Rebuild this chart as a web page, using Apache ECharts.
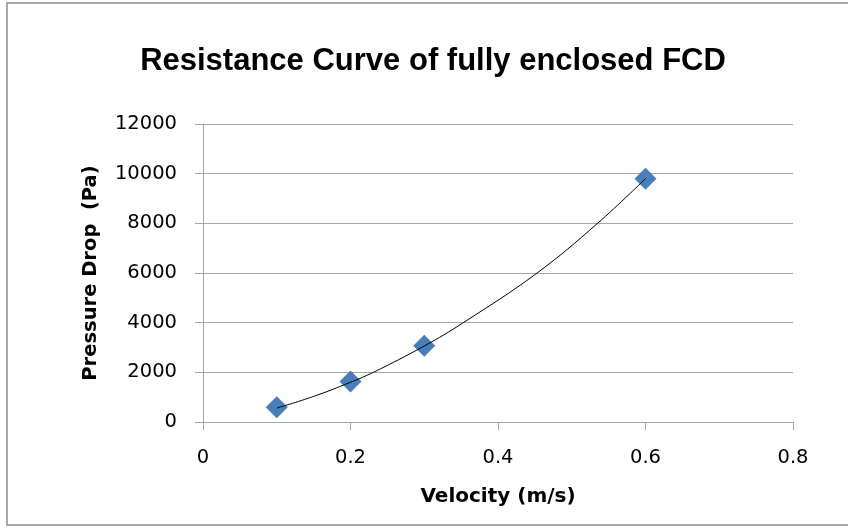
<!DOCTYPE html>
<html>
<head>
<meta charset="utf-8">
<title>Resistance Curve of fully enclosed FCD</title>
<script src="https://cdn.jsdelivr.net/npm/echarts@6/dist/echarts.min.js"></script>
<style>
  html, body { margin: 0; padding: 0; background: #ffffff; }
  #chart { width: 848px; height: 529px; }
</style>
</head>
<body>
<div id="chart"></div>
<script>
// Measured points: air velocity (m/s) against pressure drop (Pa)
const velocity = [0.1, 0.2, 0.3, 0.6];
const pressureDrop = [590, 1630, 3070, 9800];

// Trend curve through the measurements, sampled along its path
const trendVelocity = [0.1, 0.15, 0.2, 0.231, 0.3, 0.353, 0.453, 0.535, 0.6];
const trendPressure = [560, 1030, 1600, 2000, 3060, 4000, 6000, 8000, 9800];

// Axis ranges and tick steps
const xTicks = { min: 0, max: 0.8, step: 0.2 };
const yTicks = { min: 0, max: 12000, step: 2000 };

const FONT = 'DejaVu Sans';
const TITLE_FONT = 'Liberation Sans';
const GRID_GRAY = '#a6a6a6';

const chart = echarts.init(document.getElementById('chart'), null, { renderer: 'canvas' });

chart.setOption({
  backgroundColor: '#ffffff',
  animation: false,
  title: {
    text: 'Resistance Curve of fully enclosed FCD',
    left: 428,
    textAlign: 'center',
    top: 41,
    textStyle: { fontFamily: TITLE_FONT, fontWeight: 'bold', fontSize: 31, color: '#000000' }
  },
  graphic: [{
    type: 'rect',
    shape: { x: 7, y: 3, width: 850, height: 522 },
    style: { fill: 'none', stroke: '#8c8c8c', lineWidth: 1.5 },
    silent: true
  }],
  grid: { left: 203, right: 55, top: 124, bottom: 107 },
  xAxis: {
    type: 'value',
    min: xTicks.min,
    max: xTicks.max,
    interval: xTicks.step,
    name: 'Velocity (m/s)',
    nameLocation: 'middle',
    nameGap: 65,
    nameTextStyle: { fontFamily: FONT, fontWeight: 'bold', fontSize: 20, color: '#000000' },
    axisLine: { show: true, lineStyle: { color: GRID_GRAY, width: 1 } },
    axisTick: { show: true, inside: false, length: 8, lineStyle: { color: GRID_GRAY } },
    axisLabel: { fontFamily: FONT, fontSize: 19.5, color: '#000000', margin: 26 },
    splitLine: { show: false }
  },
  yAxis: {
    type: 'value',
    min: yTicks.min,
    max: yTicks.max,
    interval: yTicks.step,
    name: 'Pressure Drop  (Pa)',
    nameLocation: 'middle',
    nameGap: 102,
    nameTextStyle: { fontFamily: FONT, fontWeight: 'bold', fontSize: 19.5, color: '#000000' },
    axisLine: { show: true, lineStyle: { color: GRID_GRAY, width: 1 } },
    axisTick: { show: true, inside: false, length: 8, lineStyle: { color: GRID_GRAY } },
    axisLabel: {
      fontFamily: FONT, fontSize: 19.5, color: '#000000', margin: 26,
      formatter: (value) => String(value)
    },
    splitLine: { show: true, lineStyle: { color: GRID_GRAY, width: 1 } }
  },
  series: [
    {
      name: 'Pressure drop',
      type: 'scatter',
      symbol: 'diamond',
      symbolSize: 22,
      itemStyle: { color: '#4a7ebb', opacity: 1 },
      z: 2,
      data: velocity.map((v, i) => [v, pressureDrop[i]])
    },
    {
      name: 'Trend',
      type: 'line',
      smooth: 0.4,
      showSymbol: false,
      symbol: 'none',
      lineStyle: { color: '#000000', width: 1 },
      z: 3,
      data: trendVelocity.map((v, i) => [v, trendPressure[i]])
    }
  ]
});
</script>
</body>
</html>
